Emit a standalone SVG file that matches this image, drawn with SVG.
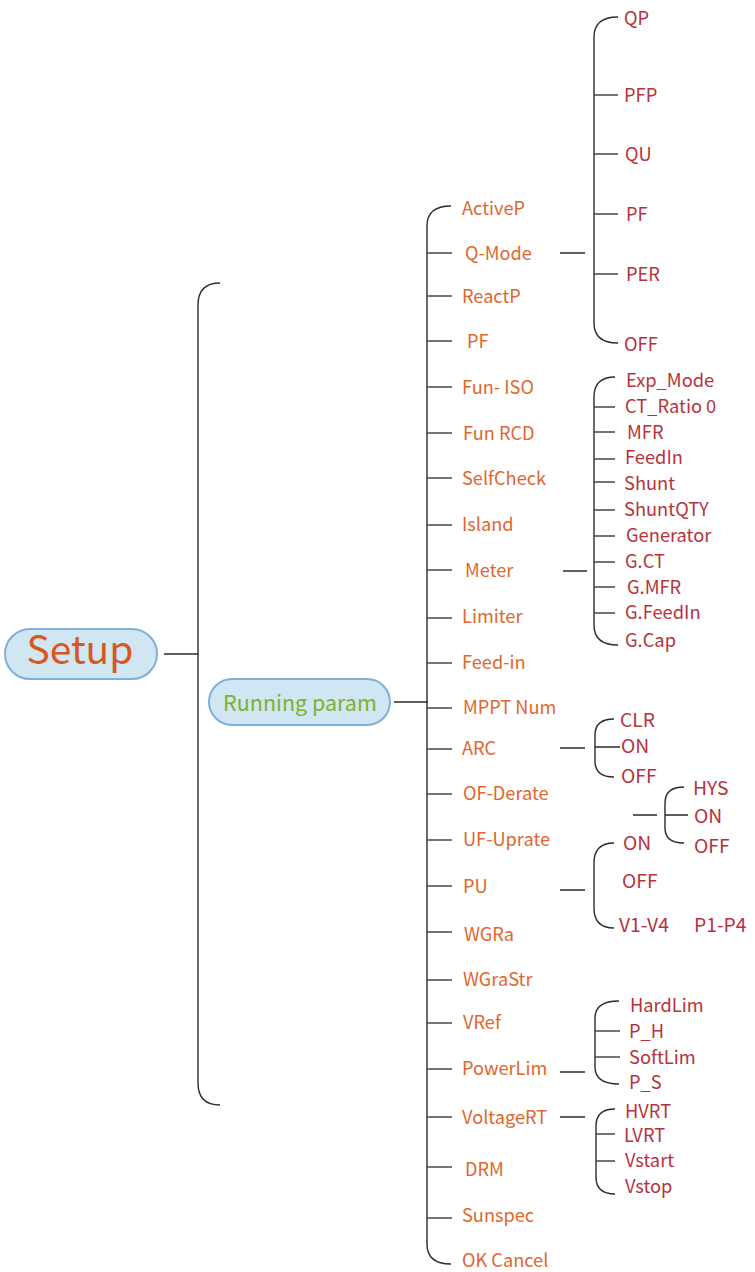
<svg xmlns="http://www.w3.org/2000/svg" width="755" height="1272" viewBox="0 0 755 1272">
<style>
text{font-family:"Noto Sans CJK SC","Noto Sans",sans-serif;dominant-baseline:central}
.l2{font-size:18.2px;fill:#e0662e}
.l3{font-size:18.3px;fill:#b8323c}
.l3b{font-size:19.3px;fill:#b8323c}
.c{fill:none;stroke:#2e2a2a;stroke-width:1.4}
.t{fill:none;stroke:#4a4646;stroke-width:1.4}
.pill{fill:#d0e6f2;stroke:#7eb0d8;stroke-width:2}
</style>
<rect width="755" height="1272" fill="#fff"/>
<g id="connectors">
<path class="c" d="M164 654H198M220 283Q198 283 198 305V1083Q198 1105 220 1105"/>
<path class="c" d="M394 702H428M451 206Q427 206 427 226V1244Q427 1264 451 1264"/>
<path class="t" d="M427 253H452M427 296H452M427 341H452M427 387H452M427 433H452M427 478H452M427 525H452M427 570H452M427 618H452M427 663H452M427 708H452M427 749H452M427 794H452M427 840H452M427 886H452M427 932H452M427 980H452M427 1023H452M427 1069H452M427 1117H452M427 1167H452M427 1218H452"/>
<path class="c" d="M560 253H585M618 17Q594 17 594 37V323Q594 343 618 343"/>
<path class="t" d="M594 95H618M594 154H618M594 214H618M594 274H618"/>
<path class="c" d="M563 571H587M615 377Q594 377 594 397V625Q594 645 618 645"/>
<path class="t" d="M594 407H615M594 432H615M594 459H615M594 482H615M594 510H615M594 536H615M594 562H615M594 587H615M594 613H615"/>
<path class="c" d="M560 748H585M614 719Q595 719 595 735V761Q595 777 614 777M595 747H620"/>
<path class="c" d="M633 815H657M684 787Q665 787 665 803V828Q665 843 684 843M665 815H688"/>
<path class="c" d="M560 890H585M614 843Q594 843 594 863V908Q594 928 614 928"/>
<path class="c" d="M560 1072H585M619 1001Q595 1001 595 1018V1067Q595 1084 619 1084"/>
<path class="t" d="M595 1031H620M595 1057H620"/>
<path class="c" d="M560 1117H585M615 1109Q596 1109 596 1126V1177Q596 1194 615 1194"/>
<path class="t" d="M596 1134H615M596 1161H615"/>
</g>
<g id="setup"><rect class="pill" x="5" y="629" width="152" height="50" rx="25"/><text x="80" y="647" text-anchor="middle" style="font-size:39px;fill:#d9561f">Setup</text></g>
<g id="running"><rect class="pill" x="209" y="679" width="181" height="46" rx="23"/><text x="300" y="701" text-anchor="middle" style="font-size:21.5px;fill:#7cb22f">Running param</text></g>
<g id="level2" transform="translate(0,-1)">
<text class="l2" x="462" y="208">ActiveP</text>
<text class="l2" x="465" y="253">Q-Mode</text>
<text class="l2" x="462" y="296">ReactP</text>
<text class="l2" x="467" y="341">PF</text>
<text class="l2" x="462" y="387">Fun- ISO</text>
<text class="l2" x="463" y="433">Fun RCD</text>
<text class="l2" x="462" y="478">SelfCheck</text>
<text class="l2" x="462" y="524">Island</text>
<text class="l2" x="465" y="570">Meter</text>
<text class="l2" x="462" y="616">Limiter</text>
<text class="l2" x="462" y="662">Feed-in</text>
<text class="l2" x="463" y="707">MPPT Num</text>
<text class="l2" x="462" y="748">ARC</text>
<text class="l2" x="463" y="793">OF-Derate</text>
<text class="l2" x="463" y="839">UF-Uprate</text>
<text class="l2" x="463" y="886">PU</text>
<text class="l2" x="464" y="934">WGRa</text>
<text class="l2" x="463" y="979">WGraStr</text>
<text class="l2" x="463" y="1022">VRef</text>
<text class="l2" x="462" y="1068">PowerLim</text>
<text class="l2" x="462" y="1117">VoltageRT</text>
<text class="l2" x="465" y="1169">DRM</text>
<text class="l2" x="462" y="1215">Sunspec</text>
<text class="l2" x="462" y="1260">OK Cancel</text>
</g>
<g id="qmode" transform="translate(0,-1)">
<text class="l3" x="624" y="18">QP</text>
<text class="l3" x="624" y="95">PFP</text>
<text class="l3" x="625" y="154">QU</text>
<text class="l3" x="626" y="214">PF</text>
<text class="l3" x="626" y="274">PER</text>
<text class="l3" x="624" y="344">OFF</text>
</g>
<g id="meter" transform="translate(0,-1)">
<text class="l3" x="626" y="380">Exp_Mode</text>
<text class="l3" x="625" y="406">CT_Ratio 0</text>
<text class="l3" x="627" y="432">MFR</text>
<text class="l3" x="625" y="457">FeedIn</text>
<text class="l3" x="624" y="483">Shunt</text>
<text class="l3" x="624" y="509">ShuntQTY</text>
<text class="l3" x="626" y="535">Generator</text>
<text class="l3" x="625" y="561">G.CT</text>
<text class="l3" x="627" y="587">G.MFR</text>
<text class="l3" x="625" y="612">G.FeedIn</text>
<text class="l3" x="625" y="640">G.Cap</text>
</g>
<g id="arc" transform="translate(0,-1)">
<text class="l3b" x="620" y="720">CLR</text>
<text class="l3b" x="621" y="746">ON</text>
<text class="l3b" x="621" y="776">OFF</text>
</g>
<g id="ofderate" transform="translate(0,-1)">
<text class="l3b" x="693" y="788">HYS</text>
<text class="l3b" x="694" y="816">ON</text>
<text class="l3b" x="694" y="846">OFF</text>
</g>
<g id="pu" transform="translate(0,-1)">
<text class="l3b" x="623" y="843">ON</text>
<text class="l3b" x="622" y="881">OFF</text>
<text class="l3b" x="619" y="925">V1-V4</text>
<text class="l3b" x="694" y="925">P1-P4</text>
</g>
<g id="powerlim" transform="translate(0,-1)">
<text class="l3" x="630" y="1005">HardLim</text>
<text class="l3" x="629" y="1031">P_H</text>
<text class="l3" x="629" y="1057">SoftLim</text>
<text class="l3" x="629" y="1082">P_S</text>
</g>
<g id="voltagert" transform="translate(0,-1)">
<text class="l3" x="625" y="1111">HVRT</text>
<text class="l3" x="624" y="1135">LVRT</text>
<text class="l3" x="625" y="1160">Vstart</text>
<text class="l3" x="625" y="1186">Vstop</text>
</g>
</svg>
